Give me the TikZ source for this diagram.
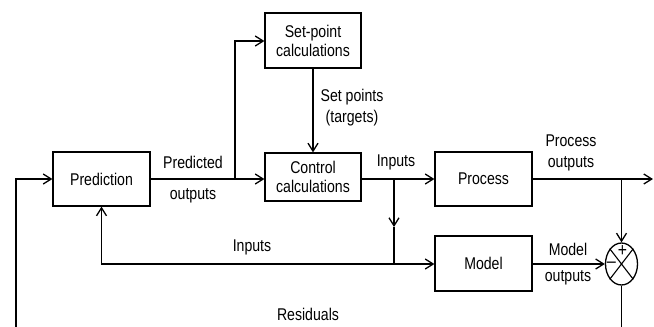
\documentclass[tikz,border=0pt]{standalone}
\usepackage{fontspec}
\setmainfont{Liberation Sans}[FakeStretch=0.83]
\usetikzlibrary{arrows.meta,shapes.geometric}
\begin{document}
\begin{tikzpicture}[x=1pt,y=-1pt,
  blk/.style={draw,line width=1.2pt,minimum width=97pt,inner sep=0pt,align=center,font=\fontsize{17}{19}\selectfont},
  lbl/.style={inner sep=0pt,align=center,font=\fontsize{17}{21}\selectfont},
  sgn/.style={inner sep=0pt,font=\fontsize{19}{19}\selectfont},
  wire/.style={line width=1.6pt},
  arr/.style={wire,-{Straight Barb[length=8pt,width=10pt,line width=1.3pt]}}]
\useasboundingbox (0,0) rectangle (654,327);
\node[blk,minimum height=54pt] (pred) at (101.5,179) {Prediction};
\node[blk,minimum height=55pt,minimum width=96pt] (setp) at (313,40.5) {Set-point\\calculations};
\node[blk,minimum height=48pt,minimum width=96pt] (ctrl) at (313,177) {Control\\calculations};
\node[blk,minimum height=54pt] (proc) at (483.5,179) {Process};
\node[blk,minimum height=55pt] (model) at (483.5,263.5) {Model};
\node[draw,ellipse,line width=1.3pt,minimum width=32pt,minimum height=42pt,inner sep=0pt] (sum) at (621.5,264) {};
\draw[line width=1.1pt] (sum.north west) -- (sum.south east) (sum.north east) -- (sum.south west);
\node[sgn] (plus) at (622.5,251) {+};
\node[sgn] (minus) at (611.5,265) {–};
% coordinates
\coordinate (b1) at (235,179);
\coordinate (b1t) at (235,41);
\coordinate (b2) at (394,179);
\coordinate (b2m) at (394,227);
\coordinate (b3) at (394,264);
\coordinate (b4) at (101.5,264);
\coordinate (b5) at (621.5,179);
\coordinate (pout) at (653,179);
\coordinate (rb) at (621.5,327);
\coordinate (lb) at (16,327);
\coordinate (lt) at (16,179);
% connectors
\draw[arr] (pred.east |- b1) -- (ctrl.west |- b1);
\draw[arr] (b1) -- (b1t) -- (setp.west |- b1t);
\draw[arr] (setp.south) -- (ctrl.north);
\draw[arr] (ctrl.east |- b2) -- (proc.west |- b2);
\draw[arr] (b2) -- (b2m);
\draw[wire] (b2m) -- (b3);
\draw[arr] (b3) -- (b4) -- (pred.south);
\draw[arr] (b3) -- (model.west |- b3);
\draw[arr] (proc.east |- b5) -- (pout);
\draw[arr] (b5) -- (sum.north);
\draw[arr] (model.east |- sum) -- (sum.west);
\draw[wire] (sum.south) -- (rb);
\draw[arr] (lb) -- (lt) -- (pred.west |- lt);
% labels
\node[lbl] (l1) at (193,162) {Predicted};
\node[lbl] (l2) at (193,196) {outputs};
\node[lbl] (l3) at (352,107.5) {Set points\\(targets)};
\node[lbl] (l4) at (396,162) {Inputs};
\node[lbl] (l5) at (571,153) {Process\\outputs};
\node[lbl] (l6) at (568,249) {Model};
\node[lbl] (l7) at (568,278) {outputs};
\node[lbl] (l8) at (252,247) {Inputs};
\node[lbl] (l9) at (308,314) {Residuals};
\end{tikzpicture}
\end{document}
